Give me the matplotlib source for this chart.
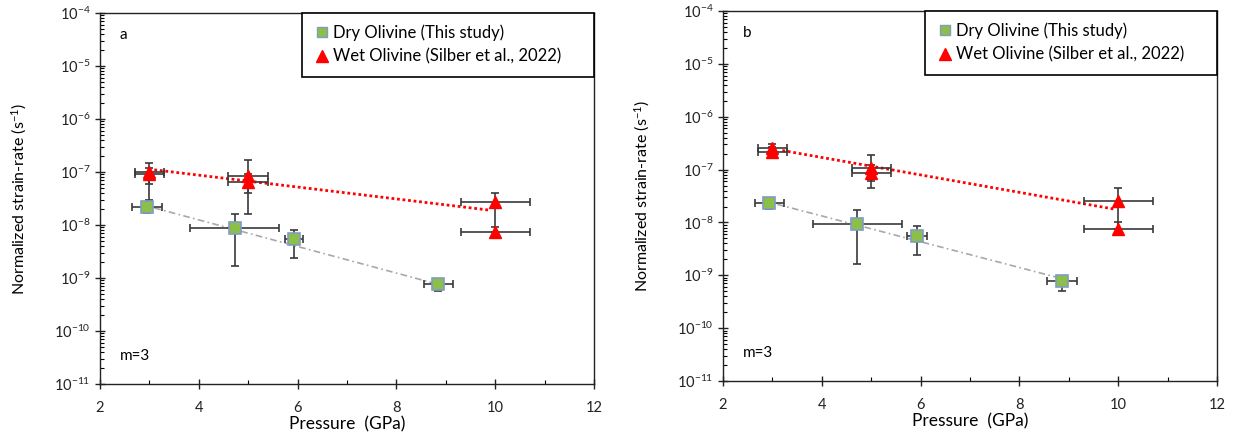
import math
import matplotlib
matplotlib.use("Agg")
import matplotlib.pyplot as plt
from matplotlib.ticker import LogLocator, FixedLocator, NullFormatter, FuncFormatter
from matplotlib.lines import Line2D

plt.rcParams["font.family"] = ["Lato", "DejaVu Sans"]
plt.rcParams["mathtext.default"] = "regular"

# ── Data: panel a ────────────────────────────────────────────────────────────
dry_p_a = [2.95, 4.73, 5.93, 8.85]
dry_rate_a = [2.2e-8, 8.9e-9, 5.4e-9, 7.6e-10]
dry_perr_a = [0.3, 0.9, 0.18, 0.3]
dry_lo_a = [1.7e-8, 1.7e-9, 2.4e-9, 5.8e-10]
dry_hi_a = [2.7e-8, 1.6e-8, 8.1e-9, 9.5e-10]

wet_p_a = [3.0, 3.0, 5.0, 5.0, 10.0, 10.0]
wet_rate_a = [1.0e-7, 9.0e-8, 8.5e-8, 6.5e-8, 2.7e-8, 7.4e-9]
wet_perr_a = [0.3, 0.3, 0.4, 0.4, 0.7, 0.7]
wet_lo_a = [3.0e-8, 6.0e-8, 1.6e-8, 4.0e-8, 7.4e-9, 6.0e-9]
wet_hi_a = [1.45e-7, 1.2e-7, 1.65e-7, 9.0e-8, 4.0e-8, 9.0e-9]

dry_fit_p_a = [3.1, 8.8]
dry_fit_a = [2.1e-8, 7.8e-10]
wet_fit_p_a = [3.1, 9.9]
wet_fit_a = [1.1e-7, 1.9e-8]

# ── Data: panel b ────────────────────────────────────────────────────────────
dry_p_b = [2.94, 4.72, 5.93, 8.86]
dry_rate_b = [2.3e-8, 9.3e-9, 5.5e-9, 7.8e-10]
dry_perr_b = [0.3, 0.9, 0.2, 0.3]
dry_lo_b = [1.8e-8, 1.66e-9, 2.4e-9, 5.0e-10]
dry_hi_b = [2.8e-8, 1.7e-8, 8.5e-9, 9.5e-10]

wet_p_b = [3.0, 3.0, 5.0, 5.0, 10.0, 10.0]
wet_rate_b = [2.6e-7, 2.2e-7, 1.05e-7, 8.5e-8, 2.6e-8, 7.6e-9]
wet_perr_b = [0.3, 0.3, 0.4, 0.4, 0.7, 0.7]
wet_lo_b = [2.0e-7, 1.8e-7, 4.4e-8, 6.0e-8, 7.6e-9, 6.0e-9]
wet_hi_b = [3.1e-7, 2.7e-7, 1.9e-7, 1.2e-7, 4.4e-8, 1.0e-8]

dry_fit_p_b = [3.1, 9.0]
dry_fit_b = [2.2e-8, 8.0e-10]
wet_fit_p_b = [3.2, 9.9]
wet_fit_b = [2.3e-7, 1.8e-8]

panel_labels = ["a", "b"]
legend_labels = ["Dry Olivine (This study)", "Wet Olivine (Silber et al., 2022)"]
x_ticks = [2, 4, 6, 8, 10, 12]
y_ticks = [1e-11, 1e-10, 1e-9, 1e-8, 1e-7, 1e-6, 1e-5, 1e-4]

GREEN = "#8cbf4a"
BLUE_EDGE = "#7f9cc4"
RED = "#ff0000"
ERR = "#3a3a3a"


def err_from(vals, lo, hi):
    return [[v - l for v, l in zip(vals, lo)], [h - v for v, h in zip(vals, hi)]]


def draw_panel(ax, dp, dr, dpe, dlo, dhi, wp, wr, wpe, wlo, whi,
               dfp, dfr, wfp, wfr, label):
    ax.plot(wfp, wfr, linestyle=(0, (1, 1)), color=RED, lw=2.0, zorder=2)
    ax.plot(dfp, dfr, linestyle=(0, (4, 2, 1, 2)), color="#a8a8a8", lw=1.2, zorder=2)

    ax.errorbar(dp, dr, xerr=dpe, yerr=err_from(dr, dlo, dhi), fmt="none",
                ecolor=ERR, elinewidth=1.2, capsize=3, capthick=1.2, zorder=3)
    ax.errorbar(wp, wr, xerr=wpe, yerr=err_from(wr, wlo, whi), fmt="none",
                ecolor=ERR, elinewidth=1.2, capsize=3, capthick=1.2, zorder=3)

    ax.plot(dp, dr, "s", ms=8, mfc=GREEN, mec=BLUE_EDGE, mew=1.2,
            linestyle="none", zorder=4)
    ax.plot(wp, wr, "^", ms=9, mfc=RED, mec=RED, linestyle="none", zorder=4)

    ax.set_yscale("log")
    ax.set_xlim(2, 12)
    ax.set_ylim(1e-11, 1e-4)
    ax.xaxis.set_major_locator(FixedLocator(x_ticks))
    ax.xaxis.set_minor_locator(FixedLocator([3, 5, 7, 9, 11]))
    ax.yaxis.set_major_locator(FixedLocator(y_ticks))
    ax.yaxis.set_minor_locator(LogLocator(base=10, subs=range(2, 10), numticks=20))
    ax.yaxis.set_minor_formatter(NullFormatter())
    ax.yaxis.set_major_formatter(FuncFormatter(
        lambda v, pos: "10$^{%d}$" % round(math.log10(v))))
    ax.tick_params(axis="both", which="major", direction="inout", length=7,
                   width=1, labelsize=10.5, colors="#222222")
    ax.tick_params(axis="x", which="major", pad=9)
    ax.tick_params(axis="both", which="minor", direction="in", length=3, width=0.8)
    for s in ax.spines.values():
        s.set_linewidth(1.0)
        s.set_color("#222222")

    ax.set_xlabel("Pressure  (GPa)", fontsize=12.5, labelpad=1)
    ax.set_ylabel("Normalized strain-rate (s$^{-1}$)", fontsize=11.5, labelpad=18)
    ax.text(0.04, 0.94, label, transform=ax.transAxes, fontsize=11, va="center")
    ax.text(0.04, 0.075, "m=3", transform=ax.transAxes, fontsize=11, va="center")

    handles = [
        Line2D([], [], marker="s", ms=7, mfc=GREEN, mec=BLUE_EDGE, mew=1.0, ls="none"),
        Line2D([], [], marker="^", ms=8, mfc=RED, mec=RED, ls="none"),
    ]
    leg = ax.legend(handles, [t + "     " for t in legend_labels],
                    loc="upper right", bbox_to_anchor=(1, 1),
                    borderaxespad=0, fancybox=False, edgecolor="black", fontsize=12,
                    handletextpad=0.15, handlelength=1.0, borderpad=0.7,
                    labelspacing=0.45, framealpha=1)
    leg.get_frame().set_linewidth(1.2)


fig = plt.figure(figsize=(12.36, 4.42), dpi=100)
ax_a = fig.add_axes([0.0809, 0.1312, 0.3997, 0.8394])
ax_b = fig.add_axes([0.585, 0.138, 0.3997, 0.837])

draw_panel(ax_a, dry_p_a, dry_rate_a, dry_perr_a, dry_lo_a, dry_hi_a,
           wet_p_a, wet_rate_a, wet_perr_a, wet_lo_a, wet_hi_a,
           dry_fit_p_a, dry_fit_a, wet_fit_p_a, wet_fit_a, panel_labels[0])
draw_panel(ax_b, dry_p_b, dry_rate_b, dry_perr_b, dry_lo_b, dry_hi_b,
           wet_p_b, wet_rate_b, wet_perr_b, wet_lo_b, wet_hi_b,
           dry_fit_p_b, dry_fit_b, wet_fit_p_b, wet_fit_b, panel_labels[1])

fig.savefig("out.png", dpi=100)
